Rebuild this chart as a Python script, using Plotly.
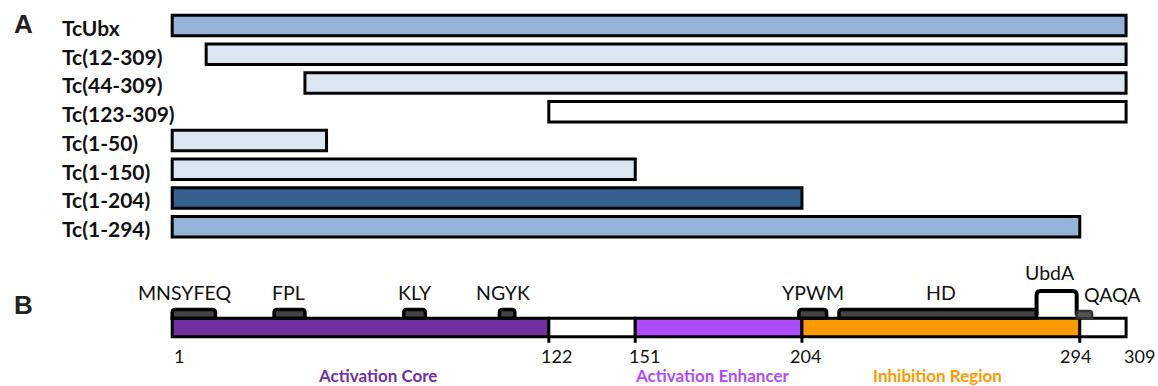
import plotly.graph_objects as go

# Truncation constructs of TcUbx (residue ranges)
constructs = ["TcUbx", "Tc(12-309)", "Tc(44-309)", "Tc(123-309)",
              "Tc(1-50)", "Tc(1-150)", "Tc(1-204)", "Tc(1-294)"]
construct_starts = [1, 12, 44, 123, 1, 1, 1, 1]
construct_ends = [309, 309, 309, 309, 50, 150, 204, 294]
construct_colors = ["#95B3D7", "#DCE6F2", "#DCE6F2", "#FFFFFF",
                    "#DCE6F2", "#DCE6F2", "#376092", "#95B3D7"]

# Functional domains of the full-length protein
domain_names = ["Activation Core", "", "Activation Enhancer", "Inhibition Region", ""]
domain_starts = [1, 123, 151, 205, 295]
domain_ends = [122, 150, 204, 294, 309]
domain_colors = ["#7030A0", "#FFFFFF", "#B04CFF", "#FF9900", "#FFFFFF"]
domain_label_colors = ["#7030A0", None, "#B04CFF", "#FF9900", None]

# Residue numbers printed under the domain map
boundary_residues = [1, 122, 151, 204, 294, 309]
boundary_is_start = [True, False, True, False, False, False]

# Sequence motifs marked above the domain map
motif_names = ["MNSYFEQ", "FPL", "KLY", "NGYK", "YPWM", "HD", "UbdA", "QAQA"]
motif_starts = [1, 34, 76, 107, 204, 217, 281, 294]
motif_ends = [14, 43, 82, 111, 212, 280, 293, 298]

# ---- layout geometry (pixels) ----
W, H = 1158, 386
PX_PER_RES = 3.087
X_ORIGIN_PX = 172.2
x_range = [-X_ORIGIN_PX / PX_PER_RES, (W - X_ORIGIN_PX) / PX_PER_RES]

ROW0, ROW_PITCH, BAR_W = 25.5, 28.74, 20.5
row_y = [ROW0 + ROW_PITCH * i for i in range(len(constructs))]

MAP_Y, MAP_W = 327.5, 18.6
map_top = MAP_Y - MAP_W / 2
map_bot = MAP_Y + MAP_W / 2

FONT = "Lato"
INK = "#111111"

fig = go.Figure()

# Panel A: construct bars
fig.add_trace(go.Bar(
    orientation="h",
    y=row_y,
    base=[s - 1 for s in construct_starts],
    x=[e - (s - 1) for s, e in zip(construct_starts, construct_ends)],
    width=BAR_W,
    marker=dict(color=construct_colors, line=dict(color="black", width=3)),
    hoverinfo="skip",
    showlegend=False,
))

# Panel B: domain map
fig.add_trace(go.Bar(
    orientation="h",
    y=[MAP_Y] * len(domain_starts),
    base=[s - 1 for s in domain_starts],
    x=[e - (s - 1) for s, e in zip(domain_starts, domain_ends)],
    width=MAP_W,
    marker=dict(color=domain_colors, line=dict(color="black", width=3)),
    hoverinfo="skip",
    showlegend=False,
))

annotations = []
shapes = []

# Panel letters
annotations.append(dict(text="<b>A</b>", x=23 / W, xref="paper", xanchor="center",
                        y=24, yref="y", showarrow=False,
                        font=dict(family="Liberation Sans", size=26, color="#222")))
annotations.append(dict(text="<b>B</b>", x=23 / W, xref="paper", xanchor="center",
                        y=305, yref="y", showarrow=False,
                        font=dict(family="Liberation Sans", size=26, color="#222")))

# Construct names
for name, yy in zip(constructs, row_y):
    annotations.append(dict(text="<b>%s</b>" % name, x=60 / W, xref="paper", xanchor="left",
                            y=yy + 2, yref="y", showarrow=False,
                            font=dict(family=FONT, size=21, color=INK)))

# Residue numbers and tick stubs
tick_style = {1: ("left", 0), 122: ("center", 8), 151: ("left", -8),
              204: ("center", 4), 294: ("center", -4), 309: ("left", -4)}
for r, is_start in zip(boundary_residues, boundary_is_start):
    pos = r - 1 if is_start else r
    anchor, shift = tick_style[r]
    annotations.append(dict(text=str(r), x=pos, xref="x", xanchor=anchor, xshift=shift,
                            y=356, yref="y", showarrow=False,
                            font=dict(family=FONT, size=18, color=INK)))
    if r not in (1, 309):
        shapes.append(dict(type="line", xref="x", yref="y", x0=pos, x1=pos,
                           y0=map_bot, y1=map_bot + 6, line=dict(color="black", width=3)))

# Domain names
domain_shift = [17, 0, -6, -3, 0]
for name, s, e, c, sh in zip(domain_names, domain_starts, domain_ends,
                             domain_label_colors, domain_shift):
    if not name:
        continue
    annotations.append(dict(text="<b>%s</b>" % name, x=(s - 1 + e) / 2, xref="x",
                            xshift=sh, y=375.5, yref="y", showarrow=False,
                            font=dict(family=FONT, size=17, color=c)))


def box_path(x0, x1, yb, yt, r_px, closed=True):
    rx = r_px / PX_PER_RES
    p = (f"M {x0},{yb} L {x0},{yt + r_px} Q {x0},{yt} {x0 + rx},{yt} "
         f"L {x1 - rx},{yt} Q {x1},{yt} {x1},{yt + r_px} L {x1},{yb}")
    return p + (" Z" if closed else "")


# Motif brackets and labels
motif_label_y = {"UbdA": 272, "QAQA": 294}
motif_label_shift = {"MNSYFEQ": -9, "FPL": -1, "KLY": 0, "NGYK": -4, "YPWM": 0,
                     "HD": 3, "UbdA": -7, "QAQA": 28}
for name, s, e in zip(motif_names, motif_starts, motif_ends):
    x0, x1 = s - 1, e
    if name == "UbdA":
        shapes.append(dict(type="path", xref="x", yref="y",
                           path=box_path(x0, x1, map_top - 3, 291, 4, closed=False),
                           line=dict(color="black", width=4)))
    elif name == "QAQA":
        shapes.append(dict(type="path", xref="x", yref="y",
                           path=box_path(x0, x1, map_top, 311, 3),
                           fillcolor="#555555", line=dict(color="#333333", width=2.5)))
    else:
        shapes.append(dict(type="path", xref="x", yref="y",
                           path=box_path(x0, x1, map_top, 309.5, 3),
                           fillcolor="#444444", line=dict(color="black", width=3.5)))
    annotations.append(dict(text=name, x=(x0 + x1) / 2, xref="x",
                            xshift=motif_label_shift[name],
                            y=motif_label_y.get(name, 292), yref="y", showarrow=False,
                            font=dict(family=FONT, size=19.5, color=INK)))

fig.update_layout(
    width=W, height=H,
    margin=dict(l=0, r=0, t=0, b=0),
    paper_bgcolor="white", plot_bgcolor="white",
    barmode="overlay",
    xaxis=dict(range=x_range, visible=False, fixedrange=True),
    yaxis=dict(range=[H, 0], visible=False, fixedrange=True),
    annotations=annotations,
    shapes=shapes,
    showlegend=False,
)

fig.write_html("out.html")
